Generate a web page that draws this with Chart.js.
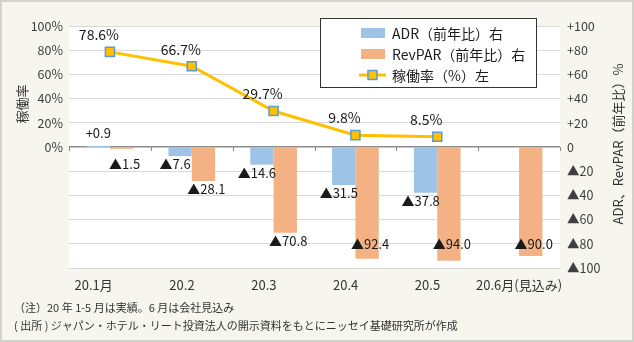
<!DOCTYPE html>
<html>
<head>
<meta charset="utf-8">
<script src="https://cdn.jsdelivr.net/npm/chart.js@4.4.1/dist/chart.umd.min.js"></script>
<style>
  html, body { margin: 0; padding: 0; background: #f7f6ee; }
  #wrap { width: 634px; height: 342px; }
</style>
</head>
<body>
<div id="wrap"><canvas id="hotelChart" width="634" height="342"></canvas></div>
<script>
// Data
const categories = ['20.1月', '20.2', '20.3', '20.4', '20.5', '20.6月(見込み)'];
const adrYoY = [0.9, -7.6, -14.6, -31.5, -37.8, null];        // ADR（前年比）%
const revparYoY = [-1.5, -28.1, -70.8, -92.4, -94.0, -90.0];  // RevPAR（前年比）%
const occupancy = [78.6, 66.7, 29.7, 9.8, 8.5, null];         // 稼働率 %
const notes = [
    '（注）20 年 1-5 月は実績。6 月は会社見込み',
    '( 出所 ) ジャパン・ホテル・リート投資法人の開示資料をもとにニッセイ基礎研究所が作成'
];

const FONT = '"Noto Sans CJK JP", "Noto Sans", sans-serif';
const BLUE = '#9dc3e6';
const ORANGE = '#f4b183';
const GOLD = '#ffc000';
const MARKER_EDGE = '#5b9bd5';

Chart.defaults.font.family = FONT;
Chart.defaults.color = '#404040';

const fmtBar = v => (v > 0 ? '+' : '▲') + Math.abs(v).toFixed(1);

// background, plot area and frame
const backdrop = {
    id: 'backdrop',
    beforeDraw(chart) {
        const { ctx, chartArea: a } = chart;
        ctx.save();
        ctx.fillStyle = '#f7f6ee';
        ctx.fillRect(0, 0, chart.width, chart.height);
        ctx.fillStyle = '#ffffff';
        ctx.fillRect(a.left, a.top, a.right - a.left, a.bottom - a.top);
        ctx.restore();
    },
    afterDraw(chart) {
        const ctx = chart.ctx;
        ctx.save();
        ctx.strokeStyle = '#d2d2cc';
        ctx.lineWidth = 2;
        ctx.strokeRect(1, 1, chart.width - 2, chart.height - 2);
        ctx.restore();
    }
};

// value labels on bars and points
const valueLabels = {
    id: 'valueLabels',
    afterDatasetsDraw(chart) {
        const ctx = chart.ctx;
        const yScale = chart.scales.y2;
        const zeroY = yScale.getPixelForValue(0);
        const lowY = yScale.getPixelForValue(-80);
        ctx.save();
        ctx.fillStyle = '#1a1a1a';
        ctx.textAlign = 'center';
        ctx.textBaseline = 'middle';

        ctx.font = '13px ' + FONT;
        [[0, -5], [1, 3]].forEach(([di, dx]) => {
            const meta = chart.getDatasetMeta(di);
            meta.data.forEach((bar, i) => {
                const v = chart.data.datasets[di].data[i];
                if (v === null || v === undefined) return;
                let y;
                if (v > 0) {
                    y = bar.y - 13;
                } else {
                    y = Math.min(Math.max(bar.y + 8, zeroY + 17), lowY);
                }
                ctx.fillText(fmtBar(v), bar.x + (v > 0 ? 0 : dx), y);
            });
        });

        ctx.font = '14px ' + FONT;
        chart.getDatasetMeta(2).data.forEach((pt, i) => {
            const v = chart.data.datasets[2].data[i];
            if (v === null || v === undefined) return;
            ctx.fillText(v.toFixed(1) + '%', pt.x - 11, pt.y - 17);
        });
        ctx.restore();
    }
};

// tick marks on the zero line, axis titles, legend box, notes
const decorations = {
    id: 'decorations',
    afterDraw(chart) {
        const { ctx, scales } = chart;
        const x = scales.x;
        const zeroY = scales.y.getPixelForValue(0);
        ctx.save();

        ctx.strokeStyle = '#8c8c8c';
        ctx.lineWidth = 1;
        for (let i = 0; i <= categories.length; i++) {
            const px = Math.round(x.getPixelForValue(i - 0.5)) + 0.5;
            ctx.beginPath();
            ctx.moveTo(px, zeroY);
            ctx.lineTo(px, zeroY + 4);
            ctx.stroke();
        }

        // axis titles
        ctx.fillStyle = '#333';
        ctx.textAlign = 'center';
        ctx.textBaseline = 'middle';
        ctx.font = '13px ' + FONT;
        ctx.save();
        ctx.translate(22, 104);
        ctx.rotate(-Math.PI / 2);
        ctx.fillText('稼働率', 0, 0);
        ctx.restore();
        ctx.save();
        ctx.translate(618, 144);
        ctx.rotate(-Math.PI / 2);
        ctx.fillText('ADR、RevPAR（前年比）%', 0, 0);
        ctx.restore();

        // legend
        const lx = 320, ly = 18, lw = 216, lh = 69;
        ctx.fillStyle = '#ffffff';
        ctx.fillRect(lx, ly, lw, lh);
        ctx.strokeStyle = '#333';
        ctx.strokeRect(lx + 0.5, ly + 0.5, lw, lh);
        const rows = [
            { label: 'ADR（前年比）右', kind: 'box', color: BLUE },
            { label: 'RevPAR（前年比）右', kind: 'box', color: ORANGE },
            { label: '稼働率（%）左', kind: 'line', color: GOLD }
        ];
        ctx.font = '14px ' + FONT;
        ctx.textAlign = 'left';
        rows.forEach((r, i) => {
            const cy = ly + 15 + i * 21;
            if (r.kind === 'box') {
                ctx.fillStyle = r.color;
                ctx.fillRect(361, cy - 5, 24, 10);
            } else {
                ctx.strokeStyle = r.color;
                ctx.lineWidth = 3;
                ctx.beginPath();
                ctx.moveTo(359, cy);
                ctx.lineTo(386, cy);
                ctx.stroke();
                ctx.fillStyle = GOLD;
                ctx.fillRect(368, cy - 4.5, 9, 9);
                ctx.strokeStyle = MARKER_EDGE;
                ctx.lineWidth = 1.5;
                ctx.strokeRect(368, cy - 4.5, 9, 9);
            }
            ctx.fillStyle = '#1a1a1a';
            ctx.fillText(r.label, 392, cy + 1);
        });

        // notes
        ctx.fillStyle = '#333';
        ctx.font = '11px ' + FONT;
        notes.forEach((n, i) => ctx.fillText(n, 14, 308 + i * 18));
        ctx.restore();
    }
};

const tickPad = (i) => {
    if (i === categories.length - 1) return '';
    return i === 0 ? '\u2003\u2003\u2002' : '\u2003\u2002';
};

new Chart(document.getElementById('hotelChart'), {
    data: {
        labels: categories,
        datasets: [
            {
                type: 'bar',
                label: 'ADR（前年比）右',
                data: adrYoY,
                backgroundColor: BLUE,
                yAxisID: 'y2',
                order: 2,
                categoryPercentage: 0.57,
                barPercentage: 1.0
            },
            {
                type: 'bar',
                label: 'RevPAR（前年比）右',
                data: revparYoY,
                backgroundColor: ORANGE,
                yAxisID: 'y2',
                order: 2,
                categoryPercentage: 0.57,
                barPercentage: 1.0
            },
            {
                type: 'line',
                label: '稼働率（%）左',
                data: occupancy,
                borderColor: GOLD,
                borderWidth: 3,
                pointStyle: 'rect',
                pointRadius: 6.4,
                pointBackgroundColor: GOLD,
                pointBorderColor: MARKER_EDGE,
                pointBorderWidth: 1.5,
                yAxisID: 'y',
                order: 0,
                spanGaps: false
            }
        ]
    },
    options: {
        responsive: false,
        animation: false,
        layout: { padding: { top: 26, left: 0, right: 0, bottom: 0 } },
        plugins: {
            legend: { display: false },
            tooltip: { enabled: false }
        },
        scales: {
            x: {
                position: 'bottom',
                grid: { display: false, drawTicks: false },
                border: { display: false },
                ticks: {
                    color: '#333',
                    font: { size: 13 },
                    padding: 9,
                    maxRotation: 0,
                    autoSkip: false,
                    callback: (v, i) => categories[i] + tickPad(i)
                },
                afterFit: s => { s.height = 74; }
            },
            y: {
                position: 'left',
                min: -100,
                max: 100,
                grid: {
                    color: c => (c.tick.value === 0 ? '#8c8c8c' : '#d9d9d9'),
                    lineWidth: c => (c.tick.value === 0 ? 1.5 : 1),
                    drawTicks: false
                },
                border: { display: false },
                ticks: {
                    stepSize: 20,
                    padding: 6,
                    font: { size: 12.5 },
                    callback: v => (v >= 0 ? v + '%' : '')
                },
                afterFit: s => { s.width = 69; }
            },
            y2: {
                position: 'right',
                min: -100,
                max: 100,
                grid: { display: false, drawTicks: false },
                border: { display: false },
                ticks: {
                    stepSize: 20,
                    padding: 7,
                    font: { size: 12.5 },
                    callback: v => (v > 0 ? '+' + v : v === 0 ? '0' : '▲' + (-v))
                },
                afterFit: s => { s.width = 74; }
            }
        }
    },
    plugins: [backdrop, valueLabels, decorations]
});
</script>
</body>
</html>
